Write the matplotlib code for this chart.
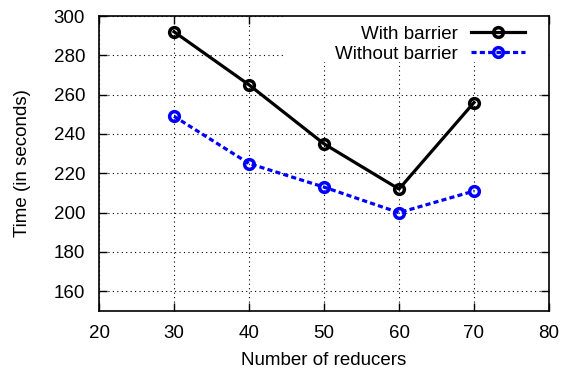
import numpy as np
import matplotlib.pyplot as plt
from matplotlib.patches import Rectangle

plt.rcParams['font.family'] = ['Liberation Sans', 'DejaVu Sans']

reducers = [30, 40, 50, 60, 70]
with_barrier = [292, 265, 235, 212, 256]
without_barrier = [249, 225, 213, 200, 211]

fig = plt.figure(figsize=(5.64, 3.68), dpi=100)
ax = fig.add_axes([99/564, 1-311/368, 450/564, 295/368])

ax.plot(reducers, with_barrier, color='black', lw=2.3, marker='o', ms=7,
        mfc='none', mew=2.5, label='With barrier', zorder=3)
ax.plot(reducers, without_barrier, color='blue', lw=2.3, ls=(0, (1.6, 1.0)), marker='o', ms=7,
        mfc='none', mew=2.5, label='Without barrier', zorder=3)

ax.set_xlim(20, 80)
ax.set_ylim(150, 300)
ax.set_xticks(np.arange(20, 81, 10))
ax.set_yticks(np.arange(160, 301, 20))
ax.tick_params(direction='in', top=True, right=True, length=6, width=1, labelsize=13.5)
ax.tick_params(axis='x', pad=10)
ax.tick_params(axis='y', pad=10)
for s in ax.spines.values():
    s.set_linewidth(1.2)

ax.set_axisbelow(True)
ax.grid(True, color='black', ls=(0, (1, 3)), lw=0.8)
# white area behind the key, hides the grid like gnuplot does
ax.add_patch(Rectangle((0.416, 0.844), 0.584, 0.156, transform=ax.transAxes,
                       facecolor='white', edgecolor='none', zorder=1))

ax.legend(loc='upper right', bbox_to_anchor=(0.985, 1.025), frameon=False, markerfirst=False,
          fontsize=13.5, handlelength=2.9, handletextpad=0.7, labelspacing=0.15)

ax.set_xlabel('Number of reducers', fontsize=13.5, labelpad=7)
ax.set_ylabel('Time (in seconds)', fontsize=13.5, labelpad=16)

plt.savefig('out.png', dpi=100)
